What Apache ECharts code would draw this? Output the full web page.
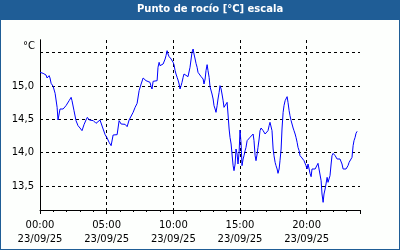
<!DOCTYPE html>
<html><head><meta charset="utf-8">
<script src="https://cdn.jsdelivr.net/npm/echarts@6/dist/echarts.min.js"></script>
<style>html,body{margin:0;padding:0;background:#1f5d96}#c{width:400px;height:250px}</style>
</head><body><div id="c"></div>
<script>
const titleText = 'Punto de rocío [°C] escala';
const unitLabel = '°C';
const dateLabel = '23/09/25';
const yTickValues = [13.5, 14.0, 14.5, 15.0];
const xMajorMinutes = 300;

const minutes = [0,14,27,32,41,45,50,54,59,63,68,77,81,86,90,95,104,117,131,140,144,153,162,171,180,189,198,207,213,222,231,240,
243,252,261,270,275,284,293,302,311,320,329,338,347,356,365,374,383,392,401,410,419,428,437,446,455,464,468,477,
486,495,500,504,509,518,527,531,536,540,545,554,558,563,567,572,576,581,585,590,594,599,603,608,612,617,621,626,630,635,639,644,648,653,657,666,671,675,680,684,689,693,698,702,707,711,716,725,
729,734,738,743,747,752,756,761,765,770,774,779,783,788,792,797,801,806,810,815,819,824,828,833,837,842,846,851,855,860,864,869,873,878,882,887,891,896,900,905,909,914,918,923,927,932,936,941,945,950,954,959,963,968,
972,977,981,986,990,995,999,1004,1008,1013,1017,1022,1026,1031,1035,1040,1044,1049,1053,1058,1062,1067,1071,1076,1080,1085,1089,1094,1098,1103,1107,1112,1116,1121,1125,1130,1134,1139,1143,1148,1152,1157,1161,1166,1170,1175,1179,1184,1188,1193,1197,1202,
1206,1211,1215,1220,1224,1229,1233,1238,1242,1247,1251,1256,1260,1265,1269,1274,1278,1283,1287,1292,1296,1301,1305,1310,1314,1319,1323,1328,1332,1337,1341,1346,1350,1355,1359,1364,1368,1373,1377,1382,1386,1391,1395,1400,1404,1409,1413,1418,1422,1427];

const dewPoint = [15.205,15.19,15.165,15.12,15.155,15.12,15.04,15.02,14.995,15.005,14.89,14.68,14.49,14.49,14.655,14.63,14.655,14.705,14.78,14.83,14.78,14.63,14.48,14.405,14.37,14.33,14.42,14.49,14.53,14.49,14.505,14.48,
14.48,14.44,14.465,14.49,14.47,14.355,14.27,14.22,14.155,14.105,14.265,14.25,14.27,14.48,14.43,14.45,14.425,14.39,14.49,14.52,14.605,14.68,14.74,14.93,15.03,15.12,15.14,15.08,
15.07,15.055,14.99,14.955,15.07,15.08,15.08,15.28,15.355,15.305,15.32,15.33,15.355,15.405,15.455,15.53,15.48,15.44,15.43,15.405,15.38,15.355,15.32,15.23,15.18,15.13,15.09,15.03,14.955,15.005,15.055,15.13,15.18,15.17,15.155,15.14,15.13,15.28,15.405,15.505,15.555,15.48,15.405,15.34,15.28,15.205,15.18,15.14,
15.14,15.105,15.03,15.105,15.23,15.32,15.23,15.13,14.99,14.98,14.88,14.805,14.705,14.655,14.605,14.705,14.805,14.905,15.005,14.955,14.88,14.78,14.68,14.705,14.655,14.755,14.58,14.355,14.23,14.13,13.98,13.805,13.73,13.83,14.055,13.98,13.83,14.005,14.34,14.13,13.805,13.905,13.955,14.03,14.08,14.18,14.205,14.205,14.23,14.23,14.255,14.28,14.18,13.955,
13.88,13.98,14.08,14.205,14.33,14.37,14.355,14.33,14.305,14.28,14.255,14.28,14.33,14.405,14.455,14.48,14.33,14.055,13.955,13.855,13.805,13.755,13.69,13.755,13.88,14.055,14.355,14.605,14.705,14.78,14.805,14.84,14.755,14.63,14.555,14.48,14.455,14.37,14.33,14.28,14.23,14.155,14.08,14.03,13.955,13.94,13.92,13.905,13.88,13.855,13.805,13.755,
13.83,13.755,13.69,13.64,13.755,13.78,13.78,13.755,13.78,13.78,13.84,13.855,13.82,13.58,13.38,13.255,13.38,13.455,13.53,13.63,13.555,13.53,13.655,13.83,13.955,13.99,13.98,13.955,13.93,13.905,13.92,13.93,13.905,13.88,13.83,13.755,13.73,13.74,13.755,13.78,13.805,13.855,13.88,13.855,13.93,14.105,14.18,14.23,14.29,14.32];

const Y_MIN = 13.14, Y_MAX = 15.69, X_MIN = 0, X_MAX = 1440;
const FONT = 'DejaVu Sans';
const pad = n => (n < 10 ? '0' : '') + n;

const chart = echarts.init(document.getElementById('c'), null, {renderer: 'canvas'});
chart.setOption({
  animation: false,
  backgroundColor: '#1f5d96',
  graphic: [{type: 'rect', shape: {x: 1, y: 20, width: 398, height: 229}, style: {fill: '#fdfffd'}, z: -10}],
  title: {
    text: titleText, left: 137, top: 4, padding: 0,
    textStyle: {color: '#ffffff', fontFamily: FONT, fontWeight: 'bold', fontSize: 10}
  },
  grid: {left: 40, right: 40, top: 40, bottom: 40},
  xAxis: [{
    type: 'value', min: X_MIN, max: X_MAX, interval: 60,
    axisLine: {show: true, onZero: false, lineStyle: {color: '#000', width: 1}},
    axisTick: {show: true, length: 2, lineStyle: {color: '#000'}},
    axisLabel: {
      margin: 8, color: '#000', fontFamily: FONT, fontSize: 10, lineHeight: 14, showMaxLabel: false,
      formatter: v => (v % xMajorMinutes === 0 && v < X_MAX) ? pad(Math.floor(v / 60)) + ':' + pad(v % 60) + '\n' + dateLabel : ''
    },
    splitLine: {show: false}
  }, {
    type: 'value', min: X_MIN, max: X_MAX, interval: xMajorMinutes, position: 'bottom',
    axisLine: {show: false, onZero: false},
    axisTick: {show: true, length: 4, lineStyle: {color: '#000'}},
    axisLabel: {show: false},
    splitLine: {show: true, showMinLine: false, showMaxLine: false, lineStyle: {color: '#000', type: [3, 3], width: 1}}
  }],
  yAxis: [{
    type: 'value', min: Y_MIN, max: Y_MAX, splitNumber: 5,
    name: unitLabel, nameLocation: 'end', nameGap: -6,
    nameTextStyle: {color: '#000', fontFamily: FONT, fontSize: 10, align: 'right', verticalAlign: 'middle', padding: [0, 5, 0, 0]},
    axisLine: {show: true, lineStyle: {color: '#000', width: 1}},
    axisTick: {show: false},
    axisLabel: {
      margin: 6, color: '#000', fontFamily: FONT, fontSize: 10,
      formatter: v => yTickValues.some(t => Math.abs(t - v) < 1e-6) ? v.toFixed(1).replace('.', ',') : ''
    },
    splitLine: {show: true, showMinLine: false, showMaxLine: false, lineStyle: {color: '#000', type: [3, 3], width: 1}}
  }, {
    type: 'value', min: Y_MIN, max: Y_MAX, position: 'right',
    axisLine: {show: true, lineStyle: {color: '#000', width: 1}},
    axisTick: {show: false}, axisLabel: {show: false}, splitLine: {show: false}
  }],
  series: [{
    type: 'line', xAxisIndex: 0, yAxisIndex: 0,
    data: minutes.map((m, i) => [m, dewPoint[i]]),
    showSymbol: false, symbol: 'none',
    lineStyle: {color: '#0000ff', width: 1},
    silent: true
  }]
});
</script>
</body></html>
